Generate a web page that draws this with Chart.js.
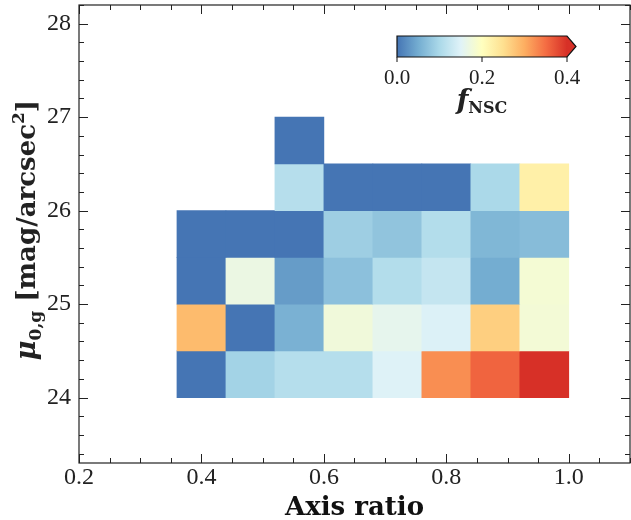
<!DOCTYPE html>
<html>
<head>
<meta charset="utf-8">
<script src="https://cdn.jsdelivr.net/npm/chart.js@4.4.1/dist/chart.umd.min.js"></script>
<style>
  body { margin: 0; background: #fff; }
  #wrap { width: 631px; height: 520px; }
</style>
</head>
<body>
<div id="wrap"><canvas id="heat" width="631" height="520"></canvas></div>
<script>
// bin centres along the axis ratio, and the surface brightness bin edges
const axisRatio = [0.40, 0.48, 0.56, 0.64, 0.72, 0.80, 0.88, 0.96];
const muEdges = [24.0, 24.5, 25.0, 25.5, 26.0, 26.5, 27.0];

// f_NSC per cell, one row per mu bin (bottom to top), null = empty
const row240 = [0.0, 0.093, 0.109, 0.109, 0.148, 0.325, 0.357, 0.42];
const row245 = [0.287, 0.0, 0.055, 0.176, 0.16, 0.146, 0.267, 0.18];
const row250 = [0.0, 0.168, 0.035, 0.072, 0.108, 0.124, 0.05, 0.182];
const row255 = [0.0, 0.0, 0.0, 0.088, 0.076, 0.108, 0.061, 0.067];
const row260 = [null, null, 0.11, 0.0, 0.0, 0.0, 0.10, 0.224];
const row265 = [null, null, 0.0, null, null, null, null, null];
const fRows = [row240, row245, row250, row255, row260, row265];

const xTicks = [0.2, 0.4, 0.6, 0.8, 1.0];
const yTicks = [24, 25, 26, 27, 28];
const cbarTicks = [0.0, 0.2, 0.4];

const vmin = 0, vmax = 0.4;
// RdYlBu (9 classes) reversed
const cmap = ['#4575b4','#74add1','#abd9e9','#e0f3f8','#ffffbf','#fee090','#fdae61','#f46d43','#d73027'];

function hexRgb(h) {
    return [parseInt(h.substr(1,2),16), parseInt(h.substr(3,2),16), parseInt(h.substr(5,2),16)];
}
function colorFor(v) {
    let t = (v - vmin) / (vmax - vmin);
    t = Math.min(Math.max(t, 0), 1) * (cmap.length - 1);
    const i = Math.min(Math.floor(t), cmap.length - 2);
    const f = t - i;
    const a = hexRgb(cmap[i]), b = hexRgb(cmap[i+1]);
    const c = a.map((x, k) => Math.round(x + (b[k] - x) * f));
    return 'rgb(' + c.join(',') + ')';
}

const cells = [];
fRows.forEach((row, r) => {
    row.forEach((v, c) => {
        if (v === null) return;
        cells.push({ x: axisRatio[c], y: [muEdges[r], muEdges[r+1]], v: v });
    });
});

const ink = '#222';
const tickFont = "'Liberation Serif', serif";
const titleFont = "'DejaVu Serif', serif";

// matplotlib style frame: spines, inward ticks on all sides, colorbar, y label
const decor = {
    id: 'decor',
    afterDraw(chart) {
        const ctx = chart.ctx;
        const a = chart.chartArea;
        const xs = chart.scales.x, ys = chart.scales.y;
        ctx.save();
        ctx.strokeStyle = ink;
        ctx.lineWidth = 1.2;
        ctx.strokeRect(a.left, a.top, a.right - a.left, a.bottom - a.top);

        ctx.lineWidth = 1;
        ctx.beginPath();
        for (let k = 0; k <= 18; k++) {
            const v = 0.2 + k * 0.05;
            const major = k % 4 === 0;
            const len = major ? 9 : 5;
            const px = Math.round(xs.getPixelForValue(v)) + 0.5;
            ctx.moveTo(px, a.bottom); ctx.lineTo(px, a.bottom - len);
            ctx.moveTo(px, a.top); ctx.lineTo(px, a.top + len);
        }
        for (let k = 0; k <= 24; k++) {
            const v = 23.4 + k * 0.2;
            const major = Math.abs(v - Math.round(v)) < 1e-6;
            const len = major ? 9 : 5;
            const py = Math.round(ys.getPixelForValue(v)) + 0.5;
            ctx.moveTo(a.left, py); ctx.lineTo(a.left + len, py);
            ctx.moveTo(a.right, py); ctx.lineTo(a.right - len, py);
        }
        ctx.stroke();

        // colorbar
        const cb = { l: 397, r: 567, t: 36, b: 57, tip: 576 };
        const g = ctx.createLinearGradient(cb.l, 0, cb.r, 0);
        cmap.forEach((c, i) => g.addColorStop(i / (cmap.length - 1), c));
        ctx.fillStyle = g;
        ctx.fillRect(cb.l, cb.t, cb.r - cb.l, cb.b - cb.t);
        ctx.fillStyle = cmap[cmap.length - 1];
        ctx.beginPath();
        ctx.moveTo(cb.r - 0.5, cb.t); ctx.lineTo(cb.tip, (cb.t + cb.b) / 2); ctx.lineTo(cb.r - 0.5, cb.b);
        ctx.closePath(); ctx.fill();
        ctx.strokeStyle = '#111';
        ctx.lineWidth = 1.2;
        ctx.beginPath();
        ctx.moveTo(cb.l, cb.t); ctx.lineTo(cb.r, cb.t); ctx.lineTo(cb.tip, (cb.t + cb.b) / 2);
        ctx.lineTo(cb.r, cb.b); ctx.lineTo(cb.l, cb.b); ctx.closePath();
        ctx.stroke();
        ctx.lineWidth = 1;
        ctx.fillStyle = ink;
        ctx.font = "21px " + tickFont;
        ctx.textAlign = 'center';
        ctx.textBaseline = 'middle';
        cbarTicks.forEach(v => {
            const px = cb.l + (v - vmin) / (vmax - vmin) * (cb.r - cb.l);
            ctx.beginPath();
            ctx.moveTo(px, cb.b); ctx.lineTo(px, cb.b + 5);
            ctx.stroke();
            ctx.fillText(v.toFixed(1), px, 78);
        });
        drawPieces(ctx, [
            { t: 'f', f: "italic bold 27px " + titleFont, dy: 0 },
            { t: 'NSC', f: "bold 16px " + titleFont, dy: 4 }
        ], 482, 109);

        // y axis label with sub/superscripts
        ctx.translate(35, 230);
        ctx.rotate(-Math.PI / 2);
        drawPieces(ctx, [
            { t: 'μ', f: "italic bold 27px " + titleFont, dy: 0 },
            { t: '0,g', f: "bold 17px " + titleFont, dy: 6 },
            { t: ' [mag/arcsec', f: "bold 26px " + titleFont, dy: 0 },
            { t: '2', f: "bold 17px " + titleFont, dy: -11 },
            { t: ']', f: "bold 26px " + titleFont, dy: 0 }
        ], 0, 0);
        ctx.restore();
    }
};

function drawPieces(ctx, pieces, cx, baseY) {
    ctx.textAlign = 'left';
    ctx.textBaseline = 'alphabetic';
    let total = 0;
    pieces.forEach(p => { ctx.font = p.f; p.w = ctx.measureText(p.t).width; total += p.w; });
    let x = cx - total / 2;
    pieces.forEach(p => {
        ctx.font = p.f;
        ctx.fillText(p.t, x, baseY + p.dy);
        x += p.w;
    });
}

new Chart(document.getElementById('heat'), {
    type: 'bar',
    data: {
        datasets: [{
            data: cells,
            backgroundColor: c => c.raw ? colorFor(c.raw.v) : '#fff',
            borderWidth: 0,
            barPercentage: 1.0,
            categoryPercentage: 1.0
        }]
    },
    options: {
        responsive: false,
        animation: false,
        layout: { padding: { top: 5, right: 1, left: 0, bottom: 0 } },
        plugins: { legend: { display: false }, tooltip: { enabled: false } },
        scales: {
            x: {
                type: 'linear',
                offset: false,
                min: 0.2, max: 1.1,
                grid: { display: false, drawTicks: false },
                border: { display: false },
                afterBuildTicks: s => { s.ticks = xTicks.map(v => ({ value: v })); },
                afterFit: s => { s.height = 57; s.paddingLeft = 0; s.paddingRight = 0; },
                ticks: {
                    padding: 0,
                    color: ink,
                    font: { family: tickFont, size: 24 },
                    callback: v => v.toFixed(1)
                },
                title: {
                    display: true,
                    text: 'Axis ratio',
                    color: '#111',
                    font: { family: titleFont, size: 26, weight: 'bold' },
                    padding: { top: 0, bottom: -4 }
                }
            },
            y: {
                min: 23.3, max: 28.2,
                beginAtZero: false,
                grid: { display: false, drawTicks: false },
                border: { display: false },
                afterBuildTicks: s => { s.ticks = yTicks.map(v => ({ value: v })); },
                afterFit: s => { s.width = 79; s.paddingTop = 0; s.paddingBottom = 0; },
                ticks: {
                    padding: 8,
                    color: ink,
                    font: { family: tickFont, size: 24 },
                    callback: v => String(v)
                }
            }
        }
    },
    plugins: [decor]
});
</script>
</body>
</html>
